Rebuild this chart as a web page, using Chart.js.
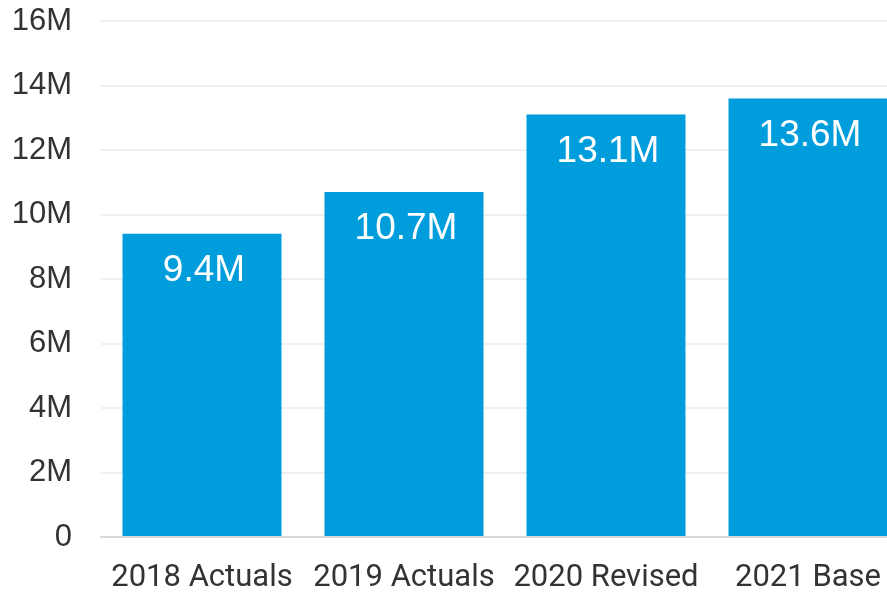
<!DOCTYPE html>
<html>
<head>
<meta charset="utf-8">
<script src="https://cdn.jsdelivr.net/npm/chart.js@4/dist/chart.umd.min.js"></script>
<style>
    html, body { margin: 0; padding: 0; overflow: hidden; background: #fff; }
    #wrap { width: 909px; height: 592px; }
</style>
</head>
<body>
<div id="wrap"><canvas id="myChart" width="909" height="592"></canvas></div>
<script>
    // values in millions
    let categories = ['2018 Actuals', '2019 Actuals', '2020 Revised', '2021 Base'];
    let values = [9.4, 10.7, 13.1, 13.6];
    let valueLabels = ['9.4M', '10.7M', '13.1M', '13.6M'];
    let yTicks = [0, 2, 4, 6, 8, 10, 12, 14, 16];

    // white value text near the top of each bar
    let barLabels = {
        id: 'barLabels',
        afterDatasetsDraw(chart) {
            let ctx = chart.ctx;
            let meta = chart.getDatasetMeta(0);
            ctx.save();
            ctx.fillStyle = '#ffffff';
            ctx.font = '37px "Liberation Sans", Arial, sans-serif';
            ctx.textAlign = 'center';
            ctx.textBaseline = 'middle';
            meta.data.forEach((bar, i) => {
                ctx.fillText(valueLabels[i], bar.x + 2, bar.y + 37);
            });
            ctx.restore();
        }
    };

    new Chart(document.getElementById('myChart'), {
        type: 'bar',
        data: {
            labels: categories,
            datasets: [{
                data: values,
                backgroundColor: '#009ddc',
                barPercentage: 0.787,
                categoryPercentage: 1
            }]
        },
        options: {
            responsive: false,
            animation: false,
            layout: { padding: { top: 21, right: 0, bottom: 0, left: 0 } },
            plugins: {
                legend: { display: false },
                tooltip: { enabled: false }
            },
            scales: {
                x: {
                    grid: { display: false, drawTicks: false },
                    border: { display: true, color: '#d9d9d9', width: 2 },
                    ticks: {
                        color: '#333333',
                        padding: 23,
                        maxRotation: 0,
                        font: { family: '"Roboto", "Liberation Sans", sans-serif', size: 31 }
                    },
                    afterFit(scale) {
                        scale.height = 55;
                        scale.paddingLeft = 0;
                        scale.paddingRight = 0;
                    }
                },
                y: {
                    min: 0,
                    max: 16,
                    afterBuildTicks(scale) {
                        scale.ticks = yTicks.map(v => ({ value: v }));
                    },
                    grid: { color: '#f0f0f0', lineWidth: 2, drawTicks: false },
                    border: { display: false },
                    ticks: {
                        color: '#333333',
                        padding: 29,
                        font: { family: '"Liberation Sans", Arial, sans-serif', size: 31 },
                        callback: v => v === 0 ? '0' : v + 'M'
                    },
                    afterFit(scale) {
                        scale.width = 101;
                        scale.paddingTop = 0;
                        scale.paddingBottom = 0;
                    }
                }
            }
        },
        plugins: [barLabels]
    });
</script>
</body>
</html>
